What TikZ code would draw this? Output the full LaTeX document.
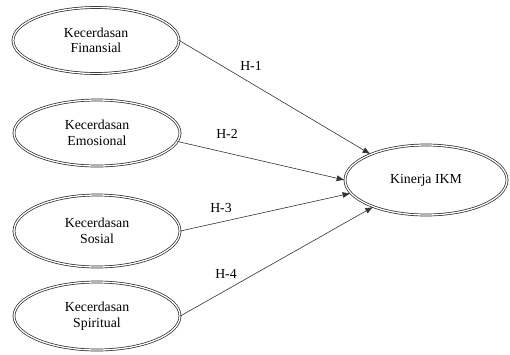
\documentclass[tikz,border=0pt]{standalone}
\usepackage{fontspec}
\setmainfont{Liberation Serif}
\usetikzlibrary{shapes.geometric,arrows.meta}
\begin{document}
\begin{tikzpicture}[x=1pt,y=-1pt,
  every node/.style={font=\fontsize{13.8}{15.5}\selectfont},
  varbox/.style={ellipse,draw=black!85,double,double distance=1.3pt,line width=0.7pt,
    inner sep=0pt,minimum width=166pt,minimum height=66pt,align=center},
  conn/.style={draw=black!80,line width=0.6pt,-{Latex[length=8pt,width=6pt]}},
  hlabel/.style={inner sep=0pt}]
\useasboundingbox (0,0) rectangle (510,354);
\node[varbox] (fin) at (96,40.5) {Kecerdasan\\Finansial};
\node[varbox] (emo) at (97,133) {Kecerdasan\\Emosional};
\node[varbox,minimum height=72pt] (sos) at (97,231) {Kecerdasan\\Sosial};
\node[varbox,minimum height=68pt] (spi) at (97,316) {Kecerdasan\\Spiritual};
\node[varbox,minimum width=162pt,minimum height=70pt] (kin) at (426,180) {Kinerja IKM};
\draw[conn] (fin.east) -- (kin.155);
\draw[conn] (emo.-6) -- (kin.180);
\draw[conn] (sos.east) -- (kin.190);
\draw[conn] (spi.east) -- (kin.207);
\node[hlabel] (h1) at (251,65.5) {H-1};
\node[hlabel] (h2) at (227,133.5) {H-2};
\node[hlabel] (h3) at (221,208) {H-3};
\node[hlabel] (h4) at (226,273.5) {H-4};
\end{tikzpicture}
\end{document}
